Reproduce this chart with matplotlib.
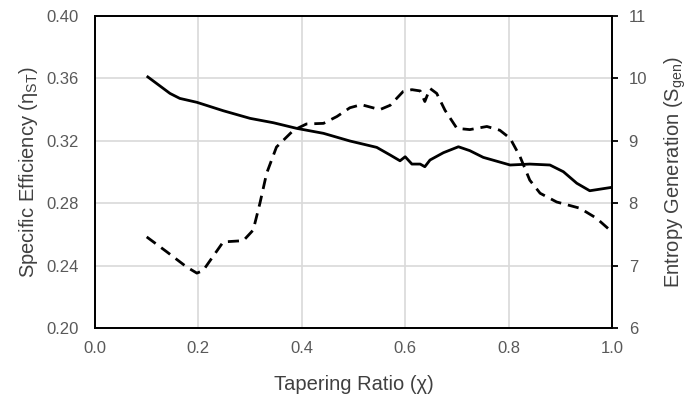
import matplotlib.pyplot as plt

# tapering ratio vs specific efficiency (solid) and entropy generation (dashed)
ratio_eff = [0.10, 0.145, 0.164, 0.197, 0.248, 0.300, 0.345, 0.390, 0.442, 0.493,
             0.545, 0.571, 0.590, 0.600, 0.613, 0.629, 0.638, 0.648, 0.674, 0.703,
             0.725, 0.751, 0.803, 0.841, 0.880, 0.906, 0.932, 0.957, 1.0]
efficiency = [0.3615, 0.3504, 0.3472, 0.3447, 0.3393, 0.3344, 0.3316, 0.3280, 0.3248, 0.3199,
              0.3158, 0.3109, 0.3072, 0.3098, 0.3051, 0.3051, 0.3034, 0.3077, 0.3124, 0.3162,
              0.3137, 0.3094, 0.3045, 0.3051, 0.3045, 0.3002, 0.2928, 0.2880, 0.2902]

ratio_ent = [0.10, 0.139, 0.177, 0.197, 0.209, 0.248, 0.287, 0.306, 0.319, 0.332,
             0.351, 0.384, 0.409, 0.442, 0.468, 0.493, 0.515, 0.551, 0.571, 0.596,
             0.613, 0.629, 0.638, 0.648, 0.661, 0.677, 0.700, 0.725, 0.758, 0.783,
             0.803, 0.822, 0.841, 0.861, 0.893, 0.938, 0.970, 1.0]
entropy = [7.46, 7.22, 6.98, 6.88, 6.92, 7.38, 7.40, 7.57, 8.00, 8.48,
           8.90, 9.17, 9.27, 9.28, 9.39, 9.53, 9.58, 9.50, 9.57, 9.79,
           9.82, 9.80, 9.63, 9.84, 9.76, 9.49, 9.20, 9.18, 9.23, 9.17,
           9.04, 8.75, 8.37, 8.16, 8.02, 7.92, 7.76, 7.54]

plt.rcParams['font.family'] = ['Liberation Sans', 'DejaVu Sans']
plt.rcParams['mathtext.fontset'] = 'custom'
plt.rcParams['mathtext.rm'] = 'Liberation Sans'
plt.rcParams['mathtext.it'] = 'Liberation Sans'

tick_col = '#595959'
label_col = '#404040'

fig = plt.figure(figsize=(6.94, 4.01), dpi=100)
ax = fig.add_axes([0.1369, 0.182, 0.8818 - 0.1369, 0.960 - 0.182])
ax2 = ax.twinx()

ax.plot(ratio_eff, efficiency, color='black', lw=2.0, solid_capstyle='butt')
ax2.plot(ratio_ent, entropy, color='black', lw=2.0, dashes=(4, 2.5))

ax.set_xlim(0, 1)
ax.set_ylim(0.20, 0.40)
ax2.set_ylim(6, 11)
ax.set_xticks([0.0, 0.2, 0.4, 0.6, 0.8, 1.0])
ax.set_yticks([0.20, 0.24, 0.28, 0.32, 0.36, 0.40])
ax2.set_yticks([6, 7, 8, 9, 10, 11])
ax.set_xticklabels(['0.0', '0.2', '0.4', '0.6', '0.8', '1.0'])
ax.set_yticklabels(['0.20', '0.24', '0.28', '0.32', '0.36', '0.40'])

ax.grid(True, color='#d9d9d9', lw=1.2)
ax.set_axisbelow(True)
for a in (ax, ax2):
    for s in a.spines.values():
        s.set_color('black')
        s.set_linewidth(1.3)

ax.tick_params(axis='both', length=0, labelsize=12, labelcolor=tick_col)
ax.tick_params(axis='y', pad=12)
ax.tick_params(axis='x', pad=9)
ax2.tick_params(axis='y', length=4, width=1.3, color='black', labelsize=12,
                labelcolor=tick_col, pad=8)

ax.set_xlabel('Tapering Ratio (χ)', fontsize=14.5, color=label_col, labelpad=14)
ax.set_ylabel('Specific Efficiency (η$_{\\mathrm{ST}}$)', fontsize=14.5, color=label_col, labelpad=4)
ax2.set_ylabel('Entropy Generation (S$_{\\mathrm{gen}}$)', fontsize=14.5, color=label_col, labelpad=11)

fig.savefig('out.png', dpi=100)
